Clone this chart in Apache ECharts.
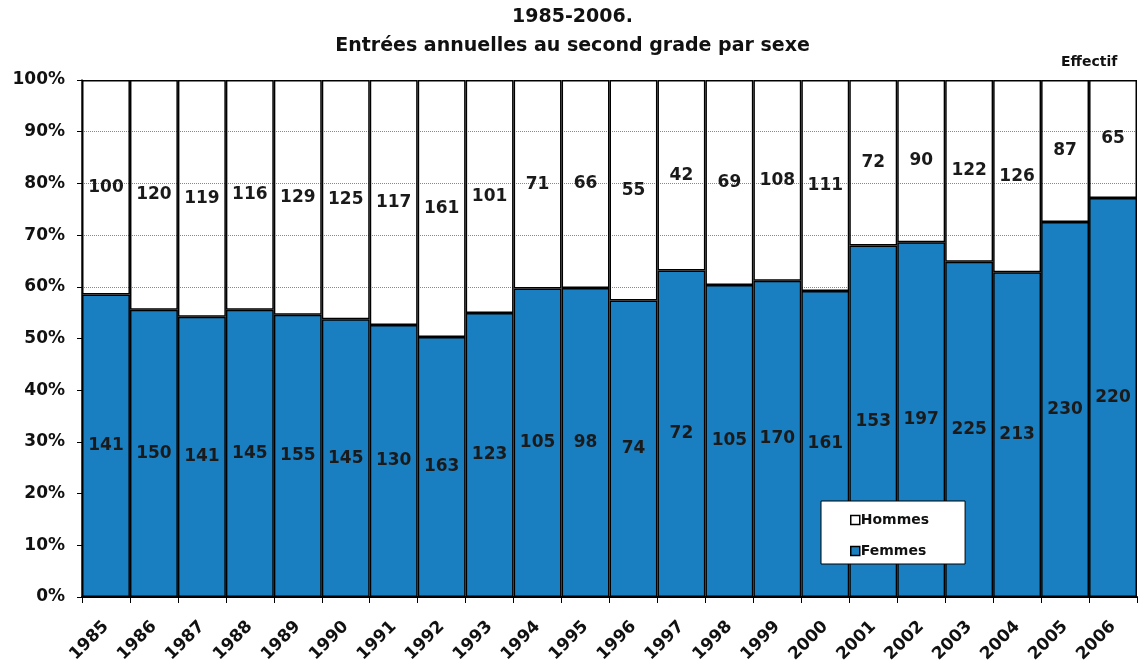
<!DOCTYPE html>
<html>
<head>
<meta charset="utf-8">
<script src="https://cdn.jsdelivr.net/npm/echarts@6/dist/echarts.min.js"></script>
<style>
  html, body { margin: 0; padding: 0; background: #fff; }
  #chart { width: 1145px; height: 667px; }
</style>
</head>
<body>
<div id="chart"></div>
<script>
// données
const years = ['1985','1986','1987','1988','1989','1990','1991','1992','1993','1994','1995',
               '1996','1997','1998','1999','2000','2001','2002','2003','2004','2005','2006'];
const femmes = [141,150,141,145,155,145,130,163,123,105,98,74,72,105,170,161,153,197,225,213,230,220];
const hommes = [100,120,119,116,129,125,117,161,101,71,66,55,42,69,108,111,72,90,122,126,87,65];

// parts en % (empilement à 100%)
const pctF = femmes.map((f, i) => f / (f + hommes[i]) * 100);
const pctH = hommes.map((h, i) => h / (femmes[i] + h) * 100);

const font = '"DejaVu Sans", Arial, sans-serif';
const blue = '#1a7fc0';
const chart = echarts.init(document.getElementById('chart'));

chart.setOption({
  backgroundColor: '#fff',
  animation: false,
  title: [
    {
      text: '1985-2006.\nEntrées annuelles au second grade par sexe',
      left: 'center', top: -2,
      textStyle: { fontFamily: font, fontSize: 19, fontWeight: 'bold', color: '#111', lineHeight: 29 }
    },
    {
      text: 'Effectif',
      left: 1056, top: 50,
      textStyle: { fontFamily: font, fontSize: 14, fontWeight: 'bold', color: '#111' }
    }
  ],
  legend: {
    orient: 'vertical',
    left: 821, top: 501,
    padding: [12, 36, 6, 29],
    itemGap: 17,
    itemWidth: 9, itemHeight: 9,
    backgroundColor: '#fff',
    borderColor: '#000',
    borderWidth: 1,
    textStyle: { fontFamily: font, fontSize: 14, fontWeight: 'bold', color: '#111', padding: [0, 0, 0, -4] },
    data: [
      { name: 'Hommes', icon: 'rect', itemStyle: { color: '#fff', borderColor: '#000', borderWidth: 1.5 } },
      { name: 'Femmes', icon: 'rect', itemStyle: { color: blue, borderColor: '#000', borderWidth: 1.5 } }
    ]
  },
  grid: { left: 82, right: 8, top: 80, bottom: 70 },
  xAxis: {
    type: 'category',
    data: years,
    axisLine: { lineStyle: { color: '#000', width: 2 } },
    axisTick: { show: true, length: 6, lineStyle: { color: '#000' } },
    axisLabel: {
      rotate: 45, margin: 27, interval: 0,
      fontFamily: font, fontSize: 17, fontWeight: 'bold', color: '#111'
    }
  },
  yAxis: {
    type: 'value',
    min: 0, max: 100, interval: 10,
    axisLine: { show: true, lineStyle: { color: '#000', width: 1.5 } },
    axisTick: { show: true, length: 5, lineStyle: { color: '#000' } },
    axisLabel: {
      formatter: '{value}%', margin: 17,
      fontFamily: font, fontSize: 17, fontWeight: 'bold', color: '#111'
    },
    splitLine: { show: true, lineStyle: { color: '#888', type: 'dotted', width: 1 } }
  },
  series: [
    {
      name: 'Femmes',
      type: 'bar',
      stack: 'total',
      barCategoryGap: '0%',
      data: pctF,
      itemStyle: { color: blue, borderColor: '#000', borderWidth: 1.5 },
      label: {
        show: true, position: 'inside',
        formatter: p => femmes[p.dataIndex],
        fontFamily: font, fontSize: 17, fontWeight: 'bold', color: '#1a1a1a'
      }
    },
    {
      name: 'Hommes',
      type: 'bar',
      stack: 'total',
      barCategoryGap: '0%',
      data: pctH,
      itemStyle: { color: 'rgba(255,255,255,0)', borderColor: '#000', borderWidth: 1.5 },
      label: {
        show: true, position: 'inside',
        formatter: p => hommes[p.dataIndex],
        fontFamily: font, fontSize: 17, fontWeight: 'bold', color: '#1a1a1a'
      }
    }
  ]
});
</script>
</body>
</html>
